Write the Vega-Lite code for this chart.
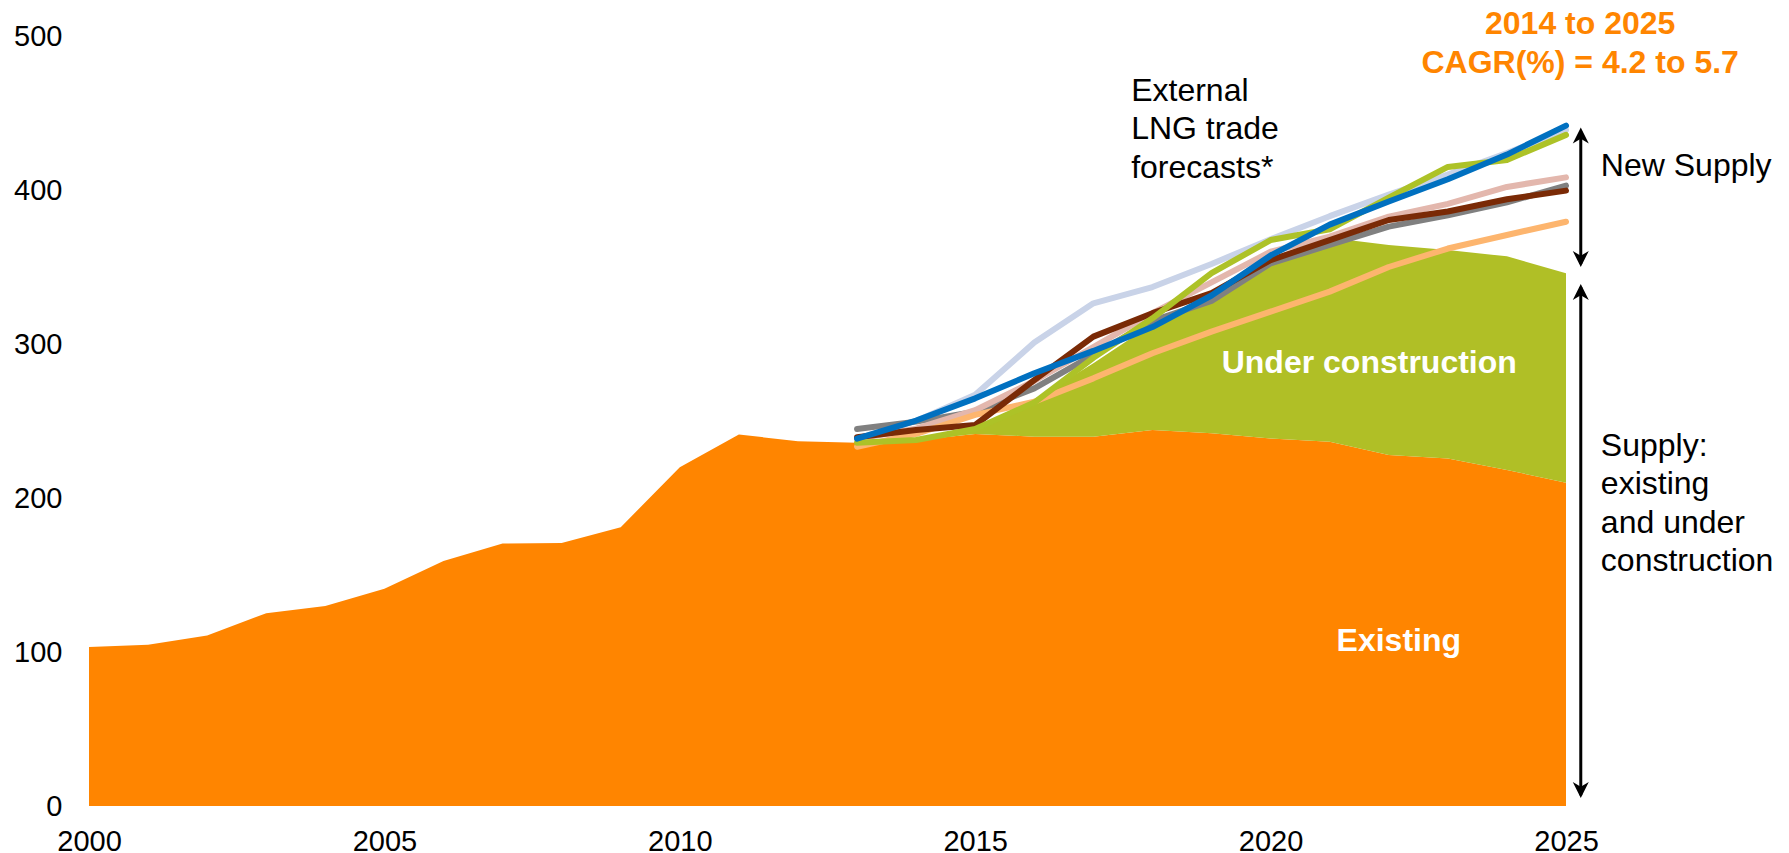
{
  "$schema": "https://vega.github.io/schema/vega-lite/v6.json",
  "width": 1477,
  "height": 770,
  "autosize": {"type": "none"},
  "padding": {"left": 89, "top": 36, "right": 223, "bottom": 47},
  "background": "white",
  "config": {
    "view": {"stroke": null},
    "font": "Liberation Sans",
    "axis": {
      "grid": false, "domain": false, "ticks": false, "tickSize": 0,
      "labelFont": "Liberation Sans", "labelFontSize": 29, "labelColor": "#000000",
      "labelFlush": false, "labelOverlap": false, "title": null
    }
  },
  "datasets": {
    "supply": [
      {"year": 2000, "segment": "Existing", "value": 103.3},
      {"year": 2001, "segment": "Existing", "value": 104.7},
      {"year": 2002, "segment": "Existing", "value": 110.7},
      {"year": 2003, "segment": "Existing", "value": 125.2},
      {"year": 2004, "segment": "Existing", "value": 129.8},
      {"year": 2005, "segment": "Existing", "value": 141.1},
      {"year": 2006, "segment": "Existing", "value": 159.1},
      {"year": 2007, "segment": "Existing", "value": 170.4},
      {"year": 2008, "segment": "Existing", "value": 170.8},
      {"year": 2009, "segment": "Existing", "value": 181.0},
      {"year": 2010, "segment": "Existing", "value": 220.0},
      {"year": 2011, "segment": "Existing", "value": 241.2},
      {"year": 2012, "segment": "Existing", "value": 236.9},
      {"year": 2013, "segment": "Existing", "value": 235.9},
      {"year": 2014, "segment": "Existing", "value": 237.5},
      {"year": 2015, "segment": "Existing", "value": 241.6},
      {"year": 2016, "segment": "Existing", "value": 239.8},
      {"year": 2017, "segment": "Existing", "value": 239.8},
      {"year": 2018, "segment": "Existing", "value": 244.2},
      {"year": 2019, "segment": "Existing", "value": 242.0},
      {"year": 2020, "segment": "Existing", "value": 238.7},
      {"year": 2021, "segment": "Existing", "value": 236.6},
      {"year": 2022, "segment": "Existing", "value": 228.0},
      {"year": 2023, "segment": "Existing", "value": 225.7},
      {"year": 2024, "segment": "Existing", "value": 218.2},
      {"year": 2025, "segment": "Existing", "value": 209.9},
      {"year": 2013, "segment": "Under construction", "value": 0},
      {"year": 2014, "segment": "Under construction", "value": 1.5},
      {"year": 2015, "segment": "Under construction", "value": 3.5},
      {"year": 2016, "segment": "Under construction", "value": 23.8},
      {"year": 2017, "segment": "Under construction", "value": 47.7},
      {"year": 2018, "segment": "Under construction", "value": 68.8},
      {"year": 2019, "segment": "Under construction", "value": 88.0},
      {"year": 2020, "segment": "Under construction", "value": 113.3},
      {"year": 2021, "segment": "Under construction", "value": 132.4},
      {"year": 2022, "segment": "Under construction", "value": 136.3},
      {"year": 2023, "segment": "Under construction", "value": 135.3},
      {"year": 2024, "segment": "Under construction", "value": 138.7},
      {"year": 2025, "segment": "Under construction", "value": 136.0}
    ],
    "forecasts": [
      {"year": 2013, "source": "Forecast 1", "value": 238.5},
      {"year": 2014, "source": "Forecast 1", "value": 250.0},
      {"year": 2015, "source": "Forecast 1", "value": 267.0},
      {"year": 2016, "source": "Forecast 1", "value": 301.0},
      {"year": 2017, "source": "Forecast 1", "value": 326.4},
      {"year": 2018, "source": "Forecast 1", "value": 337.0},
      {"year": 2019, "source": "Forecast 1", "value": 352.0},
      {"year": 2020, "source": "Forecast 1", "value": 368.0},
      {"year": 2021, "source": "Forecast 1", "value": 383.0},
      {"year": 2022, "source": "Forecast 1", "value": 397.0},
      {"year": 2023, "source": "Forecast 1", "value": 410.0},
      {"year": 2024, "source": "Forecast 1", "value": 424.0},
      {"year": 2025, "source": "Forecast 1", "value": 439.0},
      {"year": 2013, "source": "Forecast 2", "value": 244.8},
      {"year": 2014, "source": "Forecast 2", "value": 249.6},
      {"year": 2015, "source": "Forecast 2", "value": 256.0},
      {"year": 2016, "source": "Forecast 2", "value": 271.2},
      {"year": 2017, "source": "Forecast 2", "value": 293.0},
      {"year": 2018, "source": "Forecast 2", "value": 315.0},
      {"year": 2019, "source": "Forecast 2", "value": 328.0},
      {"year": 2020, "source": "Forecast 2", "value": 352.4},
      {"year": 2021, "source": "Forecast 2", "value": 364.3},
      {"year": 2022, "source": "Forecast 2", "value": 376.2},
      {"year": 2023, "source": "Forecast 2", "value": 383.5},
      {"year": 2024, "source": "Forecast 2", "value": 392.0},
      {"year": 2025, "source": "Forecast 2", "value": 402.8},
      {"year": 2013, "source": "Forecast 3", "value": 238.5},
      {"year": 2014, "source": "Forecast 3", "value": 245.0},
      {"year": 2015, "source": "Forecast 3", "value": 257.0},
      {"year": 2016, "source": "Forecast 3", "value": 276.0},
      {"year": 2017, "source": "Forecast 3", "value": 298.0},
      {"year": 2018, "source": "Forecast 3", "value": 320.0},
      {"year": 2019, "source": "Forecast 3", "value": 340.0},
      {"year": 2020, "source": "Forecast 3", "value": 359.9},
      {"year": 2021, "source": "Forecast 3", "value": 369.7},
      {"year": 2022, "source": "Forecast 3", "value": 382.7},
      {"year": 2023, "source": "Forecast 3", "value": 391.0},
      {"year": 2024, "source": "Forecast 3", "value": 402.0},
      {"year": 2025, "source": "Forecast 3", "value": 408.2},
      {"year": 2013, "source": "Forecast 4", "value": 233.3},
      {"year": 2014, "source": "Forecast 4", "value": 241.6},
      {"year": 2015, "source": "Forecast 4", "value": 254.0},
      {"year": 2016, "source": "Forecast 4", "value": 262.5},
      {"year": 2017, "source": "Forecast 4", "value": 277.7},
      {"year": 2018, "source": "Forecast 4", "value": 294.0},
      {"year": 2019, "source": "Forecast 4", "value": 308.0},
      {"year": 2020, "source": "Forecast 4", "value": 321.0},
      {"year": 2021, "source": "Forecast 4", "value": 334.0},
      {"year": 2022, "source": "Forecast 4", "value": 350.0},
      {"year": 2023, "source": "Forecast 4", "value": 362.0},
      {"year": 2024, "source": "Forecast 4", "value": 370.8},
      {"year": 2025, "source": "Forecast 4", "value": 379.4},
      {"year": 2013, "source": "Forecast 5", "value": 239.4},
      {"year": 2014, "source": "Forecast 5", "value": 244.2},
      {"year": 2015, "source": "Forecast 5", "value": 247.4},
      {"year": 2016, "source": "Forecast 5", "value": 276.6},
      {"year": 2017, "source": "Forecast 5", "value": 304.8},
      {"year": 2018, "source": "Forecast 5", "value": 320.0},
      {"year": 2019, "source": "Forecast 5", "value": 333.0},
      {"year": 2020, "source": "Forecast 5", "value": 354.5},
      {"year": 2021, "source": "Forecast 5", "value": 367.5},
      {"year": 2022, "source": "Forecast 5", "value": 380.5},
      {"year": 2023, "source": "Forecast 5", "value": 386.0},
      {"year": 2024, "source": "Forecast 5", "value": 394.0},
      {"year": 2025, "source": "Forecast 5", "value": 399.6},
      {"year": 2013, "source": "Forecast 6", "value": 235.9},
      {"year": 2014, "source": "Forecast 6", "value": 237.7},
      {"year": 2015, "source": "Forecast 6", "value": 244.8},
      {"year": 2016, "source": "Forecast 6", "value": 262.0},
      {"year": 2017, "source": "Forecast 6", "value": 291.0},
      {"year": 2018, "source": "Forecast 6", "value": 316.7},
      {"year": 2019, "source": "Forecast 6", "value": 346.0},
      {"year": 2020, "source": "Forecast 6", "value": 367.5},
      {"year": 2021, "source": "Forecast 6", "value": 374.5},
      {"year": 2022, "source": "Forecast 6", "value": 395.0},
      {"year": 2023, "source": "Forecast 6", "value": 415.0},
      {"year": 2024, "source": "Forecast 6", "value": 419.5},
      {"year": 2025, "source": "Forecast 6", "value": 435.8},
      {"year": 2013, "source": "Forecast 7", "value": 238.6},
      {"year": 2014, "source": "Forecast 7", "value": 250.3},
      {"year": 2015, "source": "Forecast 7", "value": 264.7},
      {"year": 2016, "source": "Forecast 7", "value": 281.0},
      {"year": 2017, "source": "Forecast 7", "value": 295.5},
      {"year": 2018, "source": "Forecast 7", "value": 311.0},
      {"year": 2019, "source": "Forecast 7", "value": 331.5},
      {"year": 2020, "source": "Forecast 7", "value": 357.5},
      {"year": 2021, "source": "Forecast 7", "value": 377.5},
      {"year": 2022, "source": "Forecast 7", "value": 392.5},
      {"year": 2023, "source": "Forecast 7", "value": 407.0},
      {"year": 2024, "source": "Forecast 7", "value": 423.0},
      {"year": 2025, "source": "Forecast 7", "value": 441.8}
    ],
    "one": [{}]
  },
  "resolve": {"scale": {"color": "independent"}},
  "layer": [
    {
      "data": {"name": "supply"},
      "mark": {"type": "area", "interpolate": "linear"},
      "encoding": {
        "x": {
          "field": "year", "type": "quantitative",
          "scale": {"domain": [2000, 2025], "nice": false, "zero": false},
          "axis": {"values": [2000, 2005, 2010, 2015, 2020, 2025], "format": "d", "labelPadding": 21}
        },
        "y": {
          "field": "value", "type": "quantitative", "stack": "zero",
          "scale": {"domain": [0, 500], "nice": false},
          "axis": {"values": [0, 100, 200, 300, 400, 500], "labelPadding": 27}
        },
        "color": {
          "field": "segment", "type": "nominal",
          "scale": {"domain": ["Existing", "Under construction"], "range": ["#ff8500", "#b0bf26"]},
          "legend": null
        },
        "order": {"field": "segment", "sort": "ascending"}
      }
    },
    {
      "data": {"name": "forecasts"},
      "mark": {"type": "line", "strokeWidth": 6, "strokeCap": "round", "strokeJoin": "round"},
      "encoding": {
        "x": {"field": "year", "type": "quantitative"},
        "y": {"field": "value", "type": "quantitative"},
        "color": {
          "field": "source", "type": "nominal",
          "scale": {
            "domain": ["Forecast 1", "Forecast 2", "Forecast 3", "Forecast 4", "Forecast 5", "Forecast 6", "Forecast 7"],
            "range": ["#c9d3e8", "#808080", "#e3b7ad", "#fdb56e", "#7a2a06", "#adc227", "#0070c0"]
          },
          "legend": null
        }
      }
    },
    {
      "data": {"name": "one"},
      "mark": {"type": "rule", "strokeWidth": 3, "color": "#000000", "clip": false},
      "encoding": {"x": {"datum": 2025.25}, "y": {"datum": 438}, "y2": {"datum": 352}}
    },
    {
      "data": {"name": "one"},
      "mark": {"type": "rule", "strokeWidth": 3, "color": "#000000", "clip": false},
      "encoding": {"x": {"datum": 2025.25}, "y": {"datum": 337}, "y2": {"datum": 7}}
    },
    {
      "data": {"name": "one"},
      "mark": {"type": "point", "shape": "M0,0 L-1,2 L0,1.4 L1,2 Z", "filled": true, "size": 256, "color": "#000000", "opacity": 1, "clip": false},
      "encoding": {"x": {"datum": 2025.25}, "y": {"datum": 440.6}}
    },
    {
      "data": {"name": "one"},
      "mark": {"type": "point", "shape": "M0,0 L-1,-2 L0,-1.4 L1,-2 Z", "filled": true, "size": 256, "color": "#000000", "opacity": 1, "clip": false},
      "encoding": {"x": {"datum": 2025.25}, "y": {"datum": 350}}
    },
    {
      "data": {"name": "one"},
      "mark": {"type": "point", "shape": "M0,0 L-1,2 L0,1.4 L1,2 Z", "filled": true, "size": 256, "color": "#000000", "opacity": 1, "clip": false},
      "encoding": {"x": {"datum": 2025.25}, "y": {"datum": 339}}
    },
    {
      "data": {"name": "one"},
      "mark": {"type": "point", "shape": "M0,0 L-1,-2 L0,-1.4 L1,-2 Z", "filled": true, "size": 256, "color": "#000000", "opacity": 1, "clip": false},
      "encoding": {"x": {"datum": 2025.25}, "y": {"datum": 5.2}}
    },
    {
      "data": {"name": "one"},
      "mark": {"type": "text", "text": ["External", "LNG trade", "forecasts*"], "align": "left", "baseline": "middle", "lineHeight": 38.5, "fontSize": 32, "color": "#000000", "font": "Liberation Sans"},
      "encoding": {"x": {"datum": 2017.64}, "y": {"datum": 464.3}}
    },
    {
      "data": {"name": "one"},
      "mark": {"type": "text", "text": ["2014 to 2025", "CAGR(%) = 4.2 to 5.7"], "align": "center", "baseline": "middle", "lineHeight": 39.5, "fontSize": 32, "fontWeight": "bold", "color": "#ff8500", "font": "Liberation Sans", "clip": false},
      "encoding": {"x": {"datum": 2025.24}, "y": {"datum": 508.1}}
    },
    {
      "data": {"name": "one"},
      "mark": {"type": "text", "text": "New Supply", "align": "left", "baseline": "middle", "fontSize": 32, "color": "#000000", "font": "Liberation Sans", "clip": false},
      "encoding": {"x": {"datum": 2025.59}, "y": {"datum": 415.9}}
    },
    {
      "data": {"name": "one"},
      "mark": {"type": "text", "text": ["Supply:", "existing", "and under", "construction"], "align": "left", "baseline": "middle", "lineHeight": 38.5, "fontSize": 32, "color": "#000000", "font": "Liberation Sans", "clip": false},
      "encoding": {"x": {"datum": 2025.59}, "y": {"datum": 233.8}}
    },
    {
      "data": {"name": "one"},
      "mark": {"type": "text", "text": "Under construction", "align": "center", "baseline": "middle", "fontSize": 32, "fontWeight": "bold", "color": "#ffffff", "font": "Liberation Sans"},
      "encoding": {"x": {"datum": 2021.67}, "y": {"datum": 287.7}}
    },
    {
      "data": {"name": "one"},
      "mark": {"type": "text", "text": "Existing", "align": "center", "baseline": "middle", "fontSize": 32, "fontWeight": "bold", "color": "#ffffff", "font": "Liberation Sans"},
      "encoding": {"x": {"datum": 2022.17}, "y": {"datum": 107.1}}
    }
  ]
}
